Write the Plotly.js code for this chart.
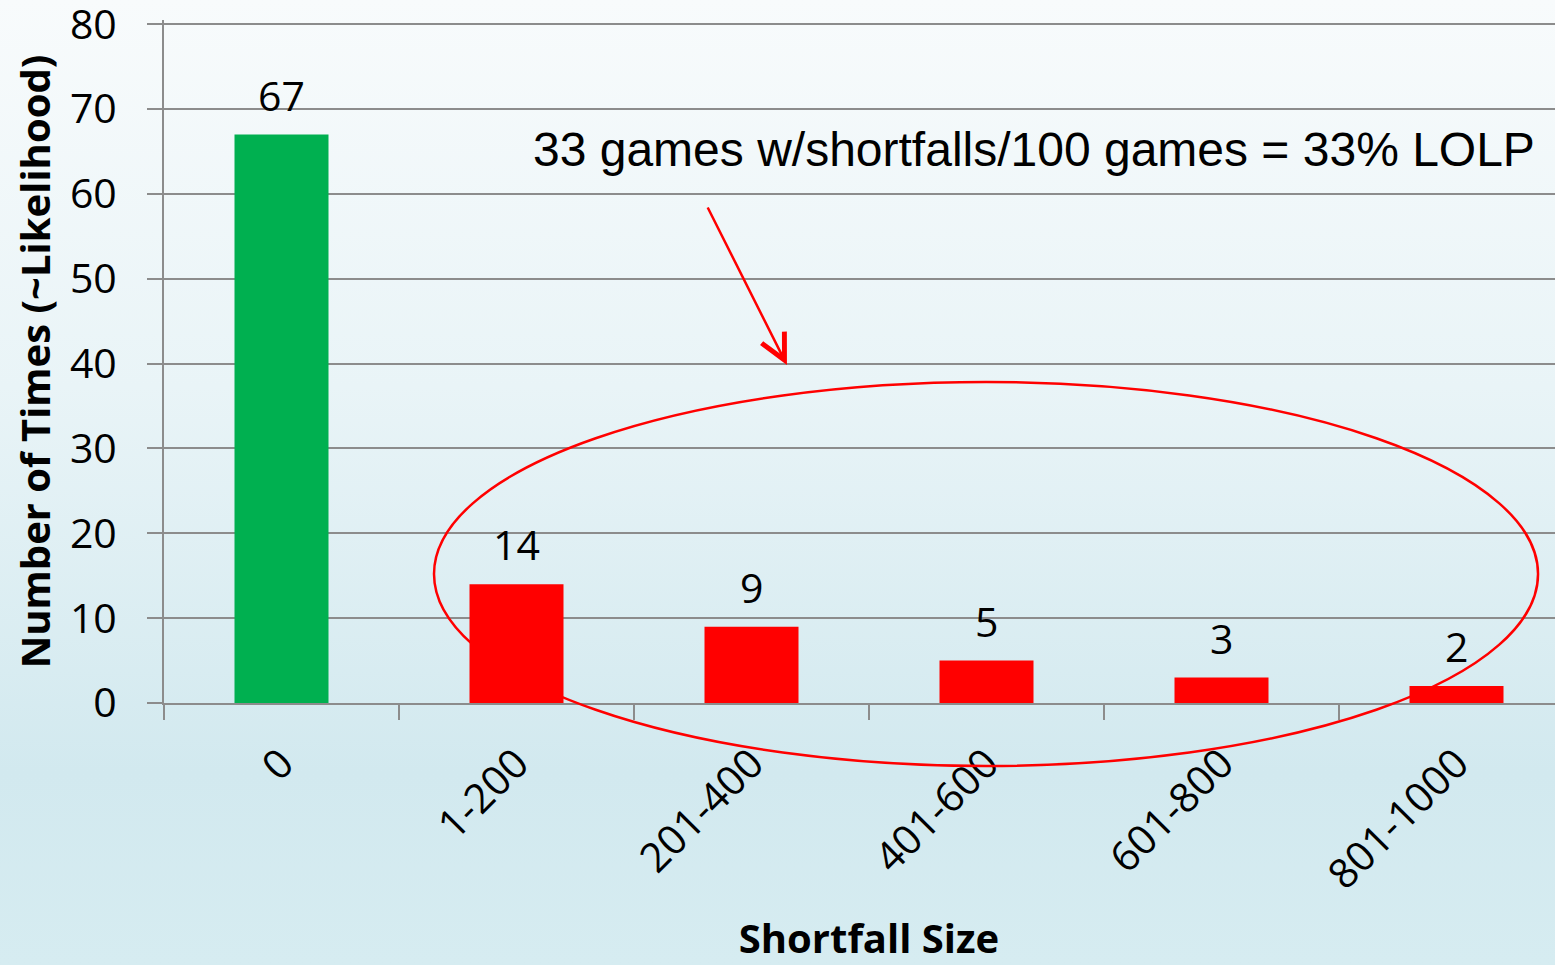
<!DOCTYPE html>
<html>
<head>
<meta charset="utf-8">
<script src="https://cdn.plot.ly/plotly-3.0.1.min.js"></script>
<style>
html, body { margin:0; padding:0; overflow:hidden; width:1555px; height:965px; }
body { background: linear-gradient(to bottom, #f8fbfc 0%, #e9f4f7 40%, #d2e9ef 80%, #d6ecf1 100%); }
#chart { width:1600px; height:965px; }
</style>
</head>
<body>
<div id="chart"></div>
<script>
const categories = ['0', '1-200', '201-400', '401-600', '601-800', '801-1000'];
const counts = [67, 14, 9, 5, 3, 2];
const barColors = ['#00b050', '#ff0000', '#ff0000', '#ff0000', '#ff0000', '#ff0000'];
const yTicks = [0, 10, 20, 30, 40, 50, 60, 70, 80];
const noteText = '33 games w/shortfalls/100 games = 33% LOLP';

const baseFont = 'Open Sans, sans-serif';

const trace = {
  type: 'bar',
  x: categories,
  y: counts,
  marker: { color: barColors, line: { width: 0 } },
  hoverinfo: 'skip'
};

const labelAnnotations = categories.map((c, i) => ({
  x: c, y: counts[i], xref: 'x', yref: 'y',
  text: String(counts[i]), showarrow: false,
  yanchor: 'bottom', yshift: 10,
  font: { family: baseFont, size: 41, color: '#000' }
}));

const plotTop = 20, plotBottom = 703;
const ph = plotBottom - plotTop;

const layout = {
  width: 1600, height: 965,
  margin: { l: 164, r: 26, t: plotTop, b: 965 - plotBottom },
  paper_bgcolor: 'rgba(0,0,0,0)',
  plot_bgcolor: 'rgba(0,0,0,0)',
  bargap: 0.6,
  showlegend: false,
  font: { family: baseFont, color: '#000' },
  xaxis: {
    type: 'category',
    tickson: 'boundaries',
    ticks: 'outside', ticklen: 15, tickwidth: 2, tickcolor: '#8c8c8c',
    tickangle: -45,
    ticklabelstandoff: 18,
    tickfont: { family: baseFont, size: 41, color: '#000' },
    showline: true, linecolor: '#8c8c8c', linewidth: 2,
    showgrid: false, zeroline: false,
    title: { text: 'Shortfall Size', font: { family: baseFont, size: 40, color: '#000', weight: 'bold' }, standoff: 52 }
  },
  yaxis: {
    range: [0, 80.5],
    tickvals: yTicks,
    ticks: 'outside', ticklen: 15, tickwidth: 2, tickcolor: '#8c8c8c',
    ticklabelstandoff: 22,
    ticklabeloverflow: 'allow',
    tickfont: { family: baseFont, size: 41, color: '#000' },
    showline: true, linecolor: '#8c8c8c', linewidth: 2,
    showgrid: true, gridcolor: '#8c8c8c', gridwidth: 2,
    zeroline: false,
    title: { text: 'Number of Times (~Likelihood)', font: { family: baseFont, size: 40, color: '#000', weight: 'bold' }, standoff: 7 }
  },
  shapes: [
    { type: 'circle', xref: 'paper', yref: 'paper',
      x0: 0.1915, x1: 0.9745, y0: -63 / ph, y1: 321 / ph,
      line: { color: '#ff0000', width: 2.5 }, fillcolor: 'rgba(0,0,0,0)' }
  ],
  annotations: labelAnnotations.concat([
    { xref: 'paper', yref: 'paper', x: 0.617, y: 553 / ph,
      text: noteText, showarrow: false, xanchor: 'center', yanchor: 'middle',
      font: { family: 'Liberation Sans, Arial, sans-serif', size: 48, color: '#000' } },
    { xref: 'paper', yref: 'paper', x: 0.4418, y: 338 / ph,
      text: '', showarrow: true, ax: -80, ay: -159,
      arrowhead: 5, arrowsize: 2, arrowwidth: 2.5, arrowcolor: '#ff0000' }
  ])
};

Plotly.newPlot('chart', [trace], layout, { displayModeBar: false, staticPlot: true });
</script>
</body>
</html>
